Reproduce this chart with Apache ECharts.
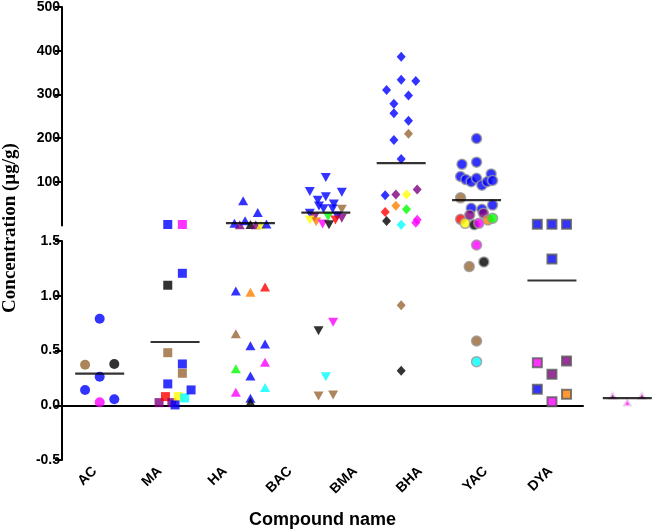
<!DOCTYPE html>
<html><head><meta charset="utf-8">
<script src="https://cdn.jsdelivr.net/npm/echarts@6/dist/echarts.min.js"></script>
<style>html,body{margin:0;padding:0;background:#fff}#chart{width:666px;height:532px}</style>
</head><body><div id="chart"></div>
<script>
// ---------------- DATA ----------------
const categories = ['AC', 'MA', 'HA', 'BAC', 'BMA', 'BHA', 'YAC', 'DYA'];

// values in sample order; colour keys identify the sample each value comes from
const acValues = [0.79, 0.37, 0.26, 0.377, 0.14, 0.027, 0.055];
const acColors = ['b', 'n', 'b', 'k', 'b', 'm', 'b'];

const maValues = [2.3, 2.3, 1.096, 1.205, 0.48, 0.377, 0.195, 0.292, 0.024, 0.079, 0.024, 0.079, 0.067, 0.14, 0.003];
const maColors = ['b', 'm', 'k', 'b', 'n', 'b', 'b', 'n', 'p', 'r', 'p', 'y', 'c', 'b', 'b'];

const haValues = [56.5, 5, 2, 11, 2.5, 2, 29.6, 1.8, 3.5, 1.044, 1.032, 1.08, 0.654, 0.544, 0.56, 0.334, 0.268, 0.393, 0.119, 0.065, 0.161, 0.03];
const haColors = ['b', 'b', 'p', 'b', 'k', 'p', 'b', 'y', 'b', 'b', 'o', 'r', 'n', 'b', 'b', 'g', 'b', 'm', 'm', 'b', 'c', 'k'];

const bacValues = [110, 77.9, 58, 65.6, 49, 76.3, 27.8, 18.7, 44.4, 38.3, 20, 38.3, 21.6, 36.9, 12.5, 8.7, 3.4, 2, 12.5, 16.4, 0.681, 0.758, 0.261, 0.085, 0.094];
const bacColors = ['b', 'b', 'b', 'b', 'b', 'b', 'b', 'p', 'b', 'b', 'g', 'b', 'b', 'n', 'y', 'o', 'm', 'k', 'r', 'p', 'k', 'm', 'c', 'n', 'n'];

const bmaValues = [386, 310, 333.7, 330.8, 278.4, 297.3, 257, 239.6, 195.4, 210, 152.2, 69.5, 71, 71, 82.5, 30.8, 45, 36.9, 13.4, 10.3, 2, 6.4, 0.913, 0.316];
const bmaColors = ['b', 'b', 'b', 'b', 'b', 'b', 'b', 'b', 'b', 'n', 'b', 'b', 'p', 'y', 'p', 'r', 'o', 'g', 'm', 'k', 'c', 'm', 'n', 'k'];

const bhaValues = [199, 140, 145, 112, 105, 118, 100, 108, 92, 100, 103, 63.3, 39.2, 36.9, 46.7, 14.1, 5, 24, 1.6, 5, 27.8, 12.5, 16.4, 1.464, 1.266, 1.309, 0.587, 0.398];
const bhaColors = ['b', 'b', 'b', 'b', 'b', 'b', 'b', 'b', 'b', 'b', 'b', 'n', 'b', 'b', 'b', 'r', 'y', 'p', 'k', 'm', 'p', 'o', 'g', 'm', 'n', 'k', 'n', 'c'];

const yacValues = [2.9, 2.9, 2.9, 1.336, 0.389, 0.283, 0.405, 0.146, 0.033, 0.1];
const yacColors = ['b', 'b', 'b', 'b', 'm', 'p', 'p', 'b', 'm', 'o'];

const dyaValues = [0.085, 0.024, 0.085];
const dyaColors = ['p', 'm', 'p'];

const upperTicks = [100, 200, 300, 400, 500];
const lowerTicks = [-0.5, 0.0, 0.5, 1.0, 1.5];
const BREAK = 1.5;

// ---------------- STYLE ----------------
const groups = [
  [acValues, acColors], [maValues, maColors], [haValues, haColors], [bacValues, bacColors],
  [bmaValues, bmaColors], [bhaValues, bhaColors], [yacValues, yacColors], [dyaValues, dyaColors]
];
const palette = { b: '#0000ff', m: '#ff00ff', n: '#996633', k: '#000000', r: '#ff0000',
  y: '#ffff00', c: '#00ffff', p: '#800080', o: '#ff8000', g: '#00ff00' };
const markers = [
  { symbol: 'circle', size: 10 },
  { symbol: 'rect', size: 9 },
  { symbol: 'triangle', size: [10, 9] },
  { symbol: 'triangle', size: [10, 9], rotate: 180 },
  { symbol: 'diamond', size: [9, 10] },
  { symbol: 'circle', size: 10, border: '#9a9a9a', bw: 1.5 },
  { symbol: 'rect', size: 9, border: '#5a5a5a', bw: 2 },
  { symbol: 'triangle', size: [7, 6], border: '#f0d0f0', bw: 2 }
];
const FONT = '"Liberation Sans", Arial, sans-serif';

const chart = echarts.init(document.getElementById('chart'), null, { renderer: 'canvas' });

function mean(a) { return a.reduce((s, v) => s + v, 0) / a.length; }

function build(offsets) {
  const series = [];
  groups.forEach(([vals, cols], ci) => {
    const mk = markers[ci];
    [0, 1].forEach(g => {
      const data = [];
      vals.forEach((v, i) => {
        if ((v > BREAK ? 0 : 1) !== g) return;
        const item = { value: [ci, v], itemStyle: { color: palette[cols[i]] } };
        if (mk.border) { item.itemStyle.borderColor = mk.border; item.itemStyle.borderWidth = mk.bw; }
        if (offsets) item.symbolOffset = [offsets[ci][i], 0];
        data.push(item);
      });
      if (!data.length) return;
      series.push({
        type: 'scatter', xAxisIndex: g, yAxisIndex: g, symbol: mk.symbol, symbolSize: mk.size,
        symbolRotate: mk.rotate || 0, data: data, silent: true, z: 2
      });
    });
  });
  // mean lines
  [0, 1].forEach(g => {
    const data = [];
    groups.forEach(([vals], ci) => {
      const m = mean(vals);
      if ((m > BREAK ? 0 : 1) === g) data.push([ci, m]);
    });
    series.push({ type: 'scatter', xAxisIndex: g, yAxisIndex: g, symbol: 'rect', symbolSize: [49, 2.2],
      itemStyle: { color: '#000' }, data: data, z: 5, silent: true });
  });

  const yLabel = { color: '#000', fontWeight: 'bold', fontSize: 14, fontFamily: FONT, margin: 2 };
  const yLine = { show: true, lineStyle: { color: '#000', width: 2 } };
  const yTick = { show: true, length: 7, lineStyle: { color: '#000', width: 2 } };
  return {
    animation: false,
    backgroundColor: '#fff',
    grid: [
      // data layers (the plotted columns are spaced wider than the category axis drawn below)
      { left: 62, right: 1, top: 6, height: 219.5 },
      { left: 62, right: 1, top: 241, height: 219 },
      // category axis layer
      { left: 62, right: 83, top: 241, height: 219 }
    ],
    xAxis: [
      { gridIndex: 0, type: 'category', data: categories, boundaryGap: true, show: false },
      { gridIndex: 1, type: 'category', data: categories, boundaryGap: true, show: false },
      { gridIndex: 2, type: 'category', data: categories, boundaryGap: true,
        axisLine: { lineStyle: { color: '#000', width: 2 } },
        axisTick: { alignWithLabel: true, length: 6, lineStyle: { color: '#000', width: 2 } },
        axisLabel: { rotate: 45, color: '#000', fontWeight: 'bold', fontSize: 14, fontFamily: FONT, margin: 9 },
        name: 'Compound name', nameLocation: 'middle', nameGap: 51,
        nameTextStyle: { color: '#000', fontWeight: 'bold', fontSize: 18, fontFamily: FONT } }
    ],
    yAxis: [
      { gridIndex: 0, type: 'value', min: 0, max: upperTicks[upperTicks.length - 1], interval: upperTicks[1] - upperTicks[0],
        axisLine: yLine, axisTick: yTick,
        axisLabel: Object.assign({ showMinLabel: false }, yLabel),
        splitLine: { show: false } },
      { gridIndex: 1, type: 'value', min: lowerTicks[0], max: lowerTicks[lowerTicks.length - 1], interval: lowerTicks[1] - lowerTicks[0],
        axisLine: yLine, axisTick: yTick,
        axisLabel: Object.assign({ formatter: v => v.toFixed(1) }, yLabel),
        splitLine: { show: false } },
      { gridIndex: 2, type: 'value', min: lowerTicks[0], max: lowerTicks[lowerTicks.length - 1], show: false }
    ],
    graphic: [{
      type: 'text', x: 10, y: 228, rotation: Math.PI / 2,
      style: { text: 'Concentration (µg/g)', font: 'bold 19px "Liberation Serif", "Times New Roman", serif',
        fill: '#000', align: 'center', verticalAlign: 'middle' }
    }],
    series: series
  };
}

chart.setOption(build(null));

// Prism-like column scatter: points whose pixel heights fall within one symbol row
// are laid side by side (in sample order), squeezed when a row holds many points.
function rowOffsets() {
  const TOL = 14, MAXROW = 8, STEP = 14.6, HALF = 16;
  return groups.map(([vals], ci) => {
    const pts = vals.map((v, i) => ({ i, v, g: v > BREAK ? 0 : 1,
      y: chart.convertToPixel({ gridIndex: v > BREAK ? 0 : 1 }, [ci, v])[1] }));
    const order = pts.slice().sort((a, b) => b.v - a.v || a.i - b.i);
    const off = new Array(vals.length).fill(0);
    let row = [];
    const flush = () => {
      if (!row.length) return;
      row.sort((a, b) => a.i - b.i);
      const n = row.length;
      const sp = n > 1 ? Math.min(STEP, 2 * HALF / (n - 1)) : 0;
      row.forEach((p, j) => { off[p.i] = (j - (n - 1) / 2) * sp; });
      row = [];
    };
    order.forEach(p => {
      if (row.length && (p.g !== row[0].g || p.y - row[0].y > TOL || row.length >= MAXROW)) flush();
      row.push(p);
    });
    flush();
    return off;
  });
}
chart.setOption(build(rowOffsets()), true);
</script>
</body></html>
